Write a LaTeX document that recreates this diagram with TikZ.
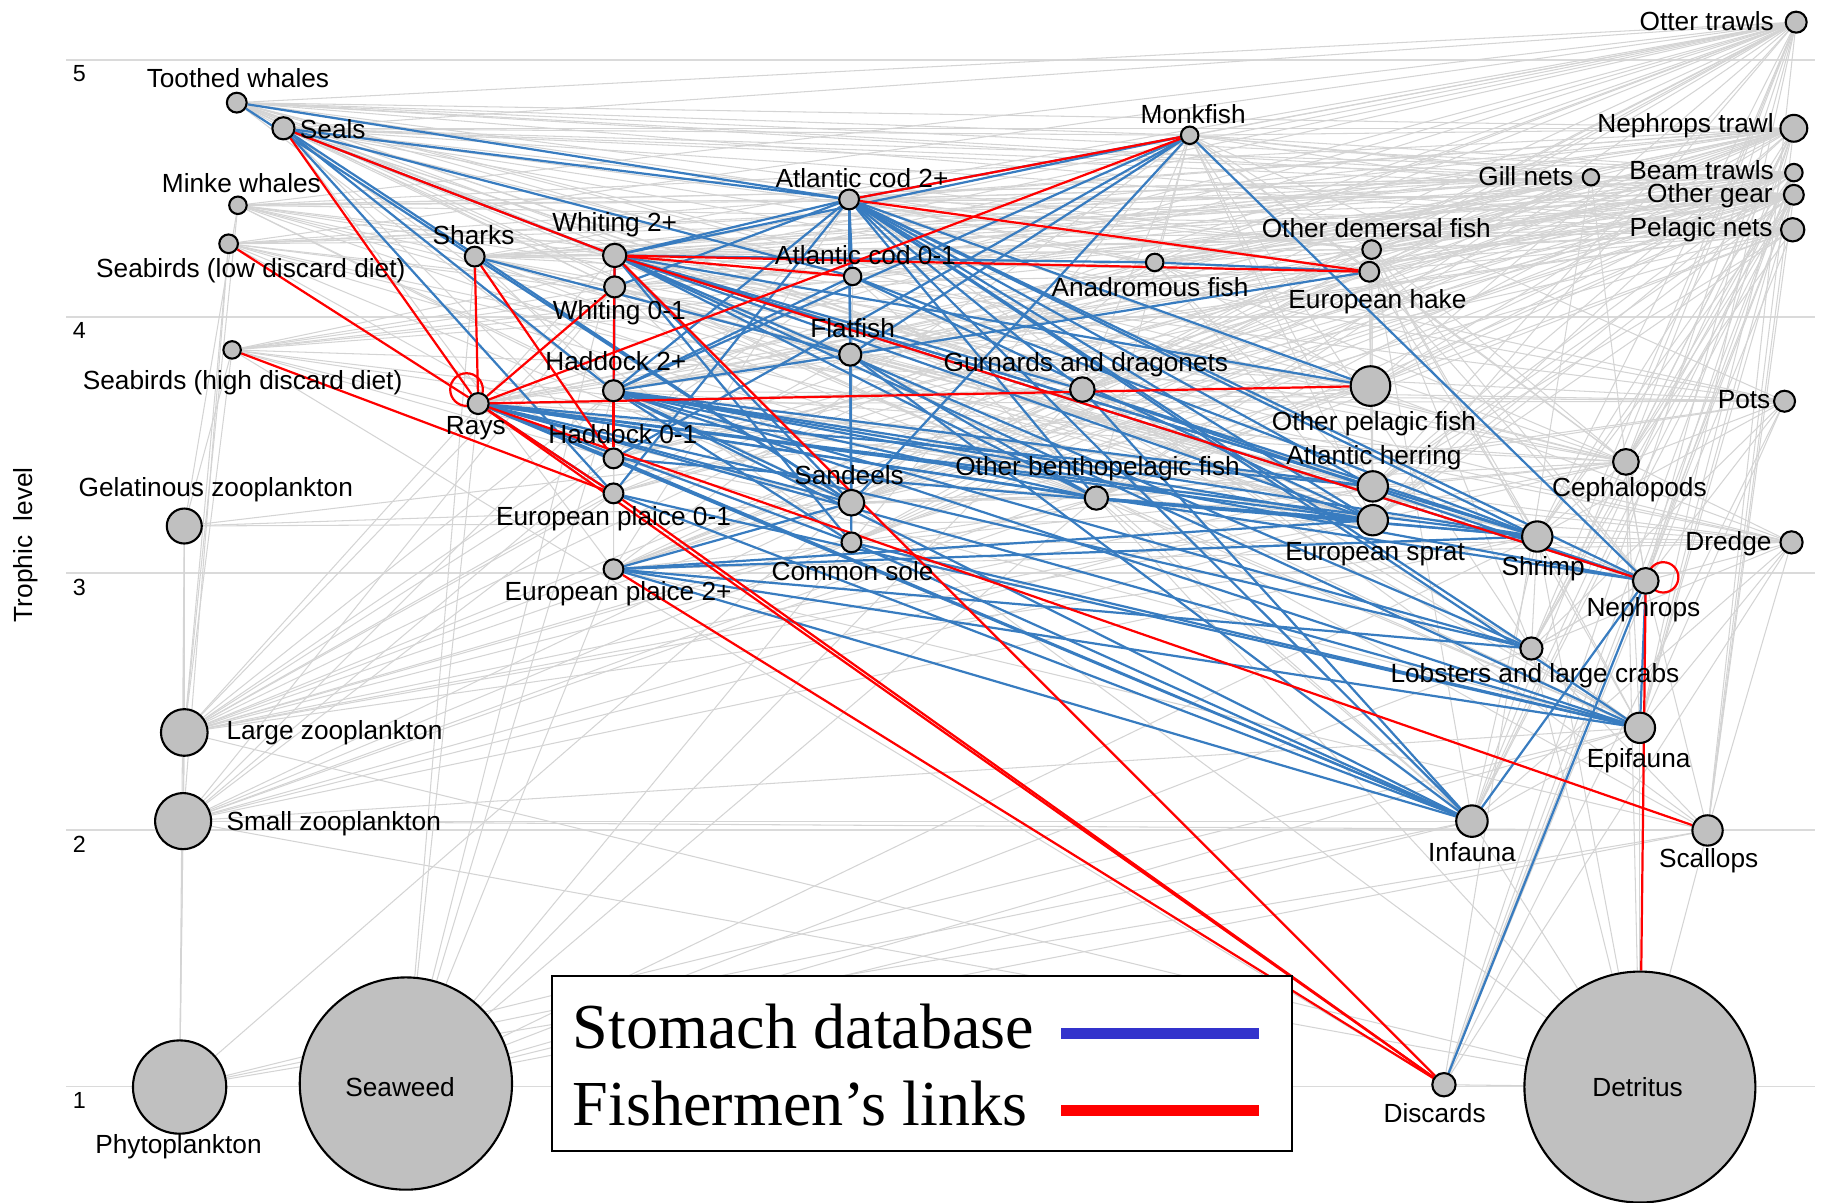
\documentclass[tikz,border=0pt]{standalone}
\usepackage{fontspec}
\setmainfont{Liberation Sans}
\newfontfamily\legendfont{Liberation Serif}
\usetikzlibrary{backgrounds,calc}
\definecolor{webgray}{RGB}{212,212,212}
\definecolor{gridgray}{RGB}{218,218,218}
\definecolor{stomachblue}{RGB}{56,124,192}
\definecolor{fishred}{RGB}{255,0,0}
\definecolor{keyblue}{RGB}{51,51,204}
\definecolor{groupfill}{RGB}{192,192,192}

\begin{document}
\begin{tikzpicture}[x=1pt, y=-1pt, line cap=round,
  font=\fontsize{22.5}{26}\selectfont,
  grp/.style={circle, draw=black, line width=1.8pt, fill=groupfill, inner sep=0pt, minimum size=#1},
  lbl/.style={inner sep=0pt},
  web/.style={draw=webgray, line width=0.9pt},
  stomach/.style={draw=stomachblue, line width=1.9pt},
  fish/.style={draw=fishred, line width=1.9pt},
  level/.style={draw=gridgray, line width=1.6pt},
  levnum/.style={inner sep=0pt, font=\fontsize{20}{22}\selectfont}]
  \useasboundingbox (0,0) rectangle (1563,1031);

  % fishing gears
  \node[grp=18pt] (otter)    at (1540,19)  {};
  \node[grp=23pt] (neptrawl) at (1538,110) {};
  \node[grp=15pt] (beam)     at (1538,148) {};
  \node[grp=17pt] (othgear)  at (1538,167) {};
  \node[grp=20pt] (pelnets)  at (1537,197) {};
  \node[grp=14pt] (gill)     at (1364,152) {};
  \node[grp=18pt] (pots)     at (1530,344) {};
  \node[grp=19pt] (dredge)   at (1536,465) {};
  % top predators
  \node[grp=17pt] (tooth)    at (203,88)  {};
  \node[grp=19pt] (seals)    at (243,110) {};
  \node[grp=15pt] (minke)    at (204,176) {};
  \node[grp=16pt] (birdlow)  at (196,209) {};
  \node[grp=15pt] (birdhigh) at (199,300) {};
  \node[grp=17pt] (sharks)   at (407,220) {};
  % fish
  \node[grp=20pt] (whi2)     at (527,219) {};
  \node[grp=18pt] (whi01)    at (527,246) {};
  \node[grp=17pt] (cod2)     at (728,171) {};
  \node[grp=15pt] (cod01)    at (731,237) {};
  \node[grp=15pt] (monk)     at (1020,116) {};
  \node[grp=15pt] (anad)     at (990,225) {};
  \node[grp=16pt] (othdem)   at (1176,214) {};
  \node[grp=17pt] (hake)     at (1174,233) {};
  \node[grp=19pt] (flat)     at (729,304) {};
  \node[grp=18pt] (had2)     at (526,335) {};
  \node[grp=17pt] (had01)    at (526,393) {};
  \node[grp=21pt] (gurn)     at (928,334) {};
  \node[grp=34pt] (othpel)   at (1175,331) {};
  \node[grp=18pt] (rays)     at (410,346) {};
  \node[grp=26pt] (her)      at (1177,417) {};
  \node[grp=22pt] (sand)     at (730,431) {};
  \node[grp=20pt] (othbp)    at (940,427) {};
  \node[grp=17pt] (pl01)     at (526,423) {};
  \node[grp=17pt] (pl2)      at (526,488) {};
  \node[grp=26pt] (spr)      at (1177,446) {};
  \node[grp=17pt] (sole)     at (730,465) {};
  % invertebrates
  \node[grp=22pt] (ceph)     at (1394,396) {};
  \node[grp=26pt] (shrimp)   at (1318,460) {};
  \node[grp=22pt] (neph)     at (1411,498) {};
  \node[grp=19pt] (lob)      at (1313,556) {};
  \node[grp=26pt] (epi)      at (1406,624) {};
  \node[grp=27pt] (inf)      at (1262,704) {};
  \node[grp=26pt] (scal)     at (1464,712) {};
  % plankton, plants, detritus
  \node[grp=30pt]  (gel)     at (158,451) {};
  \node[grp=40pt]  (lzoo)    at (158,628) {};
  \node[grp=48pt]  (szoo)    at (157,704) {};
  \node[grp=80pt]  (phyto)   at (154,932) {};
  \node[grp=182pt] (seaweed) at (348,929) {};
  \node[grp=20pt]  (disc)    at (1238,930) {};
  \node[grp=198pt] (detr)    at (1406,932) {};

  % labels
  \node[lbl, anchor=east] (l-otter)    at (1521,18)  {Otter trawls};
  \node[lbl, anchor=east] (l-neptrawl) at (1521,108) {Nephrops trawl};
  \node[lbl, anchor=east] (l-gill)     at (1349,151) {Gill nets};
  \node[lbl, anchor=east] (l-beam)     at (1521,146) {Beam trawls};
  \node[lbl, anchor=east] (l-othgear)  at (1520,168) {Other gear};
  \node[lbl, anchor=east] (l-pelnets)  at (1520,197) {Pelagic nets};
  \node[lbl, anchor=east] (l-pots)     at (1518,343) {Pots};
  \node[lbl, anchor=east] (l-dredge)   at (1519,466) {Dredge};
  \node[lbl] (l-tooth)    at (204,67)  {Toothed whales};
  \node[lbl, anchor=west] (l-seals) at (257,111) {Seals};
  \node[lbl] (l-minke)    at (207,157) {Minke whales};
  \node[lbl] (l-birdlow)  at (215,232) {Seabirds (low discard diet)};
  \node[lbl] (l-sharks)   at (406,202) {Sharks};
  \node[lbl] (l-whi2)     at (527,193) {Whiting 2+};
  \node[lbl] (l-whi01)    at (531,268) {Whiting 0-1};
  \node[lbl] (l-cod2)     at (739,153) {Atlantic cod 2+};
  \node[lbl] (l-cod01)    at (742,219) {Atlantic cod 0-1};
  \node[lbl] (l-monk)     at (1023,98) {Monkfish};
  \node[lbl] (l-anad)     at (986,246) {Anadromous fish};
  \node[lbl] (l-othdem)   at (1180,196) {Other demersal fish};
  \node[lbl] (l-hake)     at (1181,259) {European hake};
  \node[lbl] (l-flat)     at (731,281) {Flatfish};
  \node[lbl] (l-birdhigh) at (208,328) {Seabirds (high discard diet)};
  \node[lbl] (l-had2)     at (528,310) {Haddock 2+};
  \node[lbl] (l-gurn)     at (931,313) {Gurnards and dragonets};
  \node[lbl] (l-othpel)   at (1178,363) {Other pelagic fish};
  \node[lbl] (l-rays)     at (408,367) {Rays};
  \node[lbl] (l-had01)    at (534,372) {Haddock 0-1};
  \node[lbl] (l-her)      at (1178,392) {Atlantic herring};
  \node[lbl] (l-ceph)     at (1397,420) {Cephalopods};
  \node[lbl] (l-sand)     at (728,407) {Sandeels};
  \node[lbl] (l-othbp)    at (941,402) {Other benthopelagic fish};
  \node[lbl] (l-gel)      at (185,420) {Gelatinous zooplankton};
  \node[lbl] (l-pl01)     at (526,445) {European plaice 0-1};
  \node[lbl] (l-spr)      at (1179,475) {European sprat};
  \node[lbl] (l-shrimp)   at (1323,488) {Shrimp};
  \node[lbl] (l-sole)     at (731,490) {Common sole};
  \node[lbl] (l-neph)     at (1409,523) {Nephrops};
  \node[lbl] (l-pl2)      at (530,509) {European plaice 2+};
  \node[lbl] (l-lob)      at (1316,579) {Lobsters and large crabs};
  \node[lbl, anchor=west] (l-lzoo) at (194,628) {Large zooplankton};
  \node[lbl] (l-epi)      at (1405,652) {Epifauna};
  \node[lbl, anchor=west] (l-szoo) at (194,706) {Small zooplankton};
  \node[lbl] (l-inf)      at (1262,731) {Infauna};
  \node[lbl] (l-scal)     at (1465,738) {Scallops};
  \node[lbl] (l-phyto)    at (153,983) {Phytoplankton};
  \node[lbl] (l-seaweed)  at (343,932) {Seaweed};
  \node[lbl] (l-disc)     at (1230,954) {Discards};
  \node[lbl] (l-detr)     at (1404,932) {Detritus};

  % axis
  \node[lbl, rotate=90] (ylabel) at (22,467) {Trophic\ \ level};
  \foreach \t in {1,...,5}
    \node[levnum] (lev\t) at (68,{63.5+220*(5-\t)}) {\t};

  \begin{scope}[on background layer]
    \foreach \t in {1,...,5}
      \draw[level] (57,{51.5+220*(5-\t)}) -- (1556,{51.5+220*(5-\t)});

    % gray links: gears
    \foreach \g in {otter,neptrawl,beam,othgear}
      \foreach \s in {tooth,seals,minke,birdlow,birdhigh,sharks,whi2,whi01,cod2,cod01,monk,anad,othdem,hake,flat,had2,had01,gurn,othpel,rays,her,ceph,sand,othbp,pl01,pl2,spr,shrimp,sole,neph,lob,epi,inf,scal,disc}
        \draw[web] (\g) -- (\s);
    \foreach \g/\sl in {
      pelnets/{tooth,seals,minke,birdlow,birdhigh,sharks,whi2,cod2,had2,her,spr,othpel,sand,othbp,ceph,hake,othdem,anad,monk,gurn,flat,disc},
      gill/{tooth,seals,minke,birdlow,sharks,cod2,whi2,had2,hake,othdem,monk,anad,pl2,sole,flat,rays,gurn,othbp,disc,ceph},
      pots/{lob,neph,ceph,shrimp,epi,cod2,monk,whi2,had2,gurn,rays,disc,othbp,seals,sole,flat},
      dredge/{scal,epi,inf,pl2,sole,flat,rays,gurn,lob,neph,shrimp,disc,had2,cod2,whi2,othbp,ceph}}
      \foreach \s in \sl
        \draw[web] (\g) -- (\s);

    % gray links: diets
    \foreach \p/\ql in {
      tooth/{seals,whi2,had2,her,spr,othpel,ceph,othdem,hake,monk,othbp,gurn,flat,whi01,cod01},
      seals/{flat,pl2,gurn,othdem,her,spr,ceph,othbp,whi01,had01,monk,hake,sole,anad},
      minke/{her,spr,sand,othpel,cod2,had2,whi2,lzoo,othbp,gel,whi01,cod01},
      birdlow/{sand,spr,her,othpel,lzoo,whi01,had01,szoo,othbp},
      birdhigh/{sand,spr,her,disc,whi01,had01,lzoo,othpel,gel},
      sharks/{whi2,had2,cod01,her,spr,ceph,othdem,othbp,shrimp,gurn,hake},
      whi2/{ceph,othdem,pl01,pl2,flat,lzoo,cod01},
      whi01/{sand,spr,shrimp,lzoo,szoo,epi,her},
      cod2/{ceph,scal,pl2,othdem,anad,hake,whi01,had01},
      cod01/{shrimp,epi,inf,lzoo,sand,spr},
      monk/{gurn,othbp,her,spr,ceph,othdem,hake,anad,pl2,sole,rays,lob},
      anad/{her,spr,sand,lzoo,othpel,ceph},
      othdem/{shrimp,epi,inf,her,spr,sand,ceph,lzoo,lob,neph},
      hake/{her,spr,othpel,ceph,othdem,whi01,had01,sand,shrimp,neph,gurn},
      flat/{inf,epi,shrimp,sand,lzoo,scal},
      had2/{ceph,pl01,pl2,lzoo,szoo},
      had01/{lzoo,szoo,epi,sand,spr},
      gurn/{epi,inf,sand,spr,lzoo,lob},
      othpel/{lzoo,szoo,gel,sand,spr,her},
      rays/{ceph,gurn,flat,scal},
      her/{lzoo,szoo,sand,gel},
      ceph/{shrimp,spr,her,sand,epi,lob,neph,lzoo},
      sand/{lzoo,szoo,phyto},
      othbp/{lzoo,szoo,epi,inf,sand},
      pl01/{szoo,lzoo},
      pl2/{ceph,scal},
      spr/{lzoo,szoo,gel},
      shrimp/{detr,szoo,epi,inf,lzoo},
      sole/{epi,szoo,lzoo},
      neph/{lob,scal,shrimp,ceph},
      lob/{epi,inf,detr,scal,shrimp,neph},
      gel/{szoo,lzoo,phyto},
      lzoo/{szoo,phyto},
      szoo/{phyto,detr},
      epi/{detr,seaweed,phyto,inf,szoo},
      inf/{detr,phyto,seaweed,szoo},
      scal/{detr,phyto,szoo,seaweed},
      seaweed/{rays,sharks,had2,whi2,shrimp,lob,sole,pl2,othbp,gurn},
      detr/{ceph,lzoo,sand,disc,othbp}}
      \foreach \q in \ql
        \draw[web] (\p) -- (\q);

    % stomach database
    \foreach \a/\b in {tooth/cod2, tooth/sand,
      seals/cod2, seals/whi2, seals/cod01, seals/had2, seals/sand, seals/pl01,
      sharks/flat,
      whi2/cod2, whi2/whi01, whi2/anad, whi2/sand, whi2/spr, whi2/her, whi2/shrimp,
      whi2/neph, whi2/othbp, whi2/sole, whi2/had01, whi2/othpel, whi2/gurn, whi2/lob, whi2/epi,
      whi01/cod2,
      cod2/flat, cod2/sand, cod2/had2, cod2/pl01, cod2/neph, cod2/shrimp, cod2/epi, cod2/lob,
      cod2/her, cod2/spr, cod2/gurn, cod2/othbp, cod2/inf, cod2/othpel, cod2/cod01, cod2/sole,
      monk/cod2, monk/whi2, monk/had2, monk/had01, monk/sand, monk/neph, monk/flat,
      hake/flat, hake/anad,
      cod01/spr, cod01/shrimp, cod01/had2,
      flat/sand, flat/othbp, flat/inf,
      had2/flat, had2/sand, had2/spr, had2/her, had2/shrimp, had2/neph, had2/othbp,
      had2/epi, had2/inf, had2/lob, had2/sole,
      rays/sand, rays/spr, rays/her, rays/shrimp, rays/neph, rays/othbp, rays/lob,
      rays/epi, rays/inf, rays/sole, rays/had01, rays/pl01,
      had01/inf, had01/shrimp,
      pl01/inf, pl01/epi,
      pl2/sand, pl2/spr, pl2/inf, pl2/epi, pl2/lob, pl2/shrimp,
      gurn/inf, gurn/shrimp, gurn/neph,
      othbp/shrimp, othbp/spr,
      sole/inf, sole/epi,
      neph/epi, neph/inf, neph/disc}
      \draw[stomach] (\a) -- (\b);

    % fishermen's links
    \foreach \a/\b in {seals/whi2, seals/rays, birdlow/rays, birdhigh/pl01,
      sharks/rays, sharks/had01,
      rays/whi01, rays/monk, rays/othpel, rays/pl01, rays/disc, rays/scal,
      whi2/cod01, whi2/hake, whi2/had2, had2/had01, whi2/neph, whi2/disc,
      cod2/monk, cod2/hake, pl01/disc, pl2/disc, neph/detr}
      \draw[fish] (\a) -- (\b);
    \draw[fish] ($(rays)+(-10,-12)$) circle[radius=14pt];
    \draw[fish] ($(neph)+(15,-3)$) circle[radius=13pt];
  \end{scope}

  % legend
  \node[draw=black, line width=1.8pt, fill=white, minimum width=635pt, minimum height=150pt, inner sep=0pt] (legbox) at (790.5,912) {};
  \node[lbl, anchor=base west, font=\legendfont\fontsize{55}{60}\selectfont] (legstomach) at (491,899) {Stomach database};
  \node[lbl, anchor=base west, font=\legendfont\fontsize{55}{60}\selectfont] (legfish) at (491,965) {Fishermen’s links};
  \draw[keyblue, line width=10pt, line cap=butt] (910,886) -- (1079,886);
  \draw[fishred, line width=10pt, line cap=butt] (910,952) -- (1079,952);
\end{tikzpicture}
\end{document}
